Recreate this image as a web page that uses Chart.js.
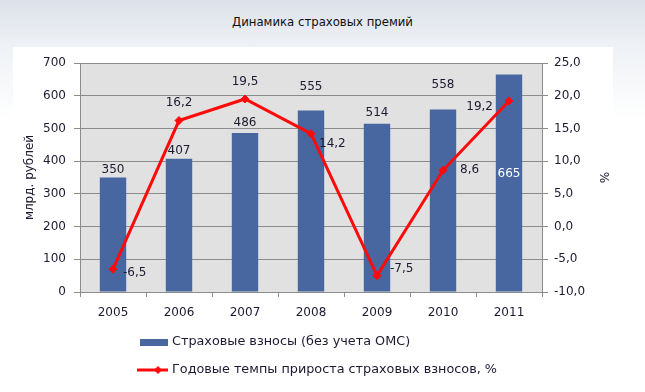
<!DOCTYPE html>
<html>
<head>
<meta charset="utf-8">
<script src="https://cdn.jsdelivr.net/npm/chart.js@4/dist/chart.umd.min.js"></script>
<style>
  html, body { margin: 0; padding: 0; }
  body {
    width: 645px; height: 392px; overflow: hidden; position: relative;
    background: linear-gradient(to bottom, #dce1ea 0px, #eef1f5 45px, #ffffff 120px);
  }
  #panel { position: absolute; left: 13px; top: 47px; width: 600px; height: 345px; background: #fff; }
  #title {
    position: absolute; left: 0; top: 14px; width: 645px; text-align: center;
    font: 13px "DejaVu Sans Condensed", "DejaVu Sans", sans-serif; color: #111;
  }
  #wrap { position: absolute; left: 0; top: 0; width: 645px; height: 392px; }
</style>
</head>
<body>
<div id="panel"></div>
<div id="title">Динамика страховых премий</div>
<div id="wrap"><canvas id="chart" width="645" height="392"></canvas></div>
<script>
// Chart data
const years = ['2005', '2006', '2007', '2008', '2009', '2010', '2011'];
const premiums = [350, 407, 486, 555, 514, 558, 665];
const growth = [-6.5, 16.2, 19.5, 14.2, -7.5, 8.6, 19.2];
const barLabel = 'Страховые взносы (без учета ОМС)';
const lineLabel = 'Годовые темпы прироста страховых взносов, %';

const BLUE = '#4866a0';
const RED = '#ff0a0a';
const TEXT = '#1c1a30';
const GRID = '#8c8c8c';
const FONT = '"DejaVu Sans", sans-serif';

// label placement (style only): gap above each bar top, last one sits inside the bar
const barLabelGap = [8, 8, 10, 24, 11, 25, null];
// growth label relative to its point: [dx, dy, align]
const growthLabelPos = [
    [10, 4, 'left'], [0, -18, 'center'], [0, -17, 'center'], [8, 10, 'left'],
    [13, -7, 'left'], [17, 0, 'left'], [-16, 6, 'right']
];

const fmt = v => v.toFixed(1).replace('.', ',');

const plotBg = {
    id: 'plotBg',
    beforeDraw(chart) {
        const { ctx, chartArea: a } = chart;
        ctx.save();
        ctx.fillStyle = '#e1e1e1';
        ctx.fillRect(a.left, a.top, a.right - a.left, a.bottom - a.top);
        ctx.restore();
    }
};

const valueLabels = {
    id: 'valueLabels',
    afterDatasetsDraw(chart) {
        const ctx = chart.ctx;
        ctx.save();
        ctx.font = '12px ' + FONT;
        ctx.textBaseline = 'middle';

        // bar labels
        chart.getDatasetMeta(1).data.forEach((bar, i) => {
            ctx.textAlign = 'center';
            const gap = barLabelGap[i];
            if (gap === null) {
                ctx.fillStyle = '#ffffff';
                ctx.fillText(String(premiums[i]), bar.x, (bar.y + bar.base) / 2 - 9);
            } else {
                ctx.fillStyle = TEXT;
                ctx.fillText(String(premiums[i]), bar.x, bar.y - gap);
            }
        });

        // line labels
        ctx.fillStyle = TEXT;
        chart.getDatasetMeta(0).data.forEach((pt, i) => {
            const [dx, dy, align] = growthLabelPos[i];
            ctx.textAlign = align;
            ctx.fillText(fmt(growth[i]), pt.x + dx, pt.y + dy);
        });
        ctx.restore();
    }
};

const legendBox = {
    id: 'legendBox',
    afterDraw(chart) {
        const ctx = chart.ctx;
        ctx.save();
        ctx.fillStyle = BLUE;
        ctx.fillRect(140, 339, 28, 7);

        ctx.strokeStyle = RED;
        ctx.lineWidth = 3;
        ctx.beginPath();
        ctx.moveTo(137, 370);
        ctx.lineTo(168, 370);
        ctx.stroke();
        ctx.fillStyle = RED;
        ctx.beginPath();
        ctx.moveTo(158, 366); ctx.lineTo(162, 370); ctx.lineTo(158, 374); ctx.lineTo(154, 370);
        ctx.closePath();
        ctx.fill();

        ctx.font = '12.8px ' + FONT;
        ctx.fillStyle = TEXT;
        ctx.textAlign = 'left';
        ctx.textBaseline = 'middle';
        ctx.fillText(barLabel, 172, 342);
        ctx.fillText(lineLabel, 172, 370);
        ctx.restore();
    }
};

new Chart(document.getElementById('chart'), {
    data: {
        labels: years,
        datasets: [
            {
                type: 'line',
                label: lineLabel,
                data: growth,
                yAxisID: 'y1',
                borderColor: RED,
                backgroundColor: RED,
                borderWidth: 3,
                pointStyle: 'rectRot',
                pointRadius: 4,
                pointBorderWidth: 1,
                tension: 0
            },
            {
                type: 'bar',
                label: barLabel,
                data: premiums,
                yAxisID: 'y',
                backgroundColor: BLUE,
                categoryPercentage: 1,
                barPercentage: 0.4
            }
        ]
    },
    options: {
        responsive: false,
        animation: false,
        layout: { padding: { left: 0, right: 0, top: 63, bottom: 0 } },
        plugins: { legend: { display: false }, tooltip: { enabled: false } },
        scales: {
            x: {
                offset: true,
                grid: { display: true, drawOnChartArea: false, offset: true, color: GRID, tickLength: 5 },
                border: { color: GRID },
                ticks: { color: TEXT, font: { family: FONT, size: 12 }, padding: 9, maxRotation: 0 },
                afterFit: s => { s.height = 100; }
            },
            y: {
                position: 'left',
                min: 0, max: 700,
                ticks: { stepSize: 100, color: TEXT, font: { family: FONT, size: 12 }, padding: 8 },
                grid: { color: GRID, tickLength: 6 },
                border: { color: GRID },
                title: { display: true, text: 'млрд. рублей', color: TEXT, font: { family: FONT, size: 12 }, padding: { top: 23 } },
                afterFit: s => { s.width = 80; }
            },
            y1: {
                position: 'right',
                min: -10, max: 25,
                ticks: { stepSize: 5, color: TEXT, font: { family: FONT, size: 12 }, padding: 6, callback: v => fmt(v) },
                grid: { drawOnChartArea: false, color: GRID, tickLength: 6 },
                border: { color: GRID },
                title: { display: true, text: '%', color: TEXT, font: { family: FONT, size: 12 }, padding: { top: 35 } },
                afterFit: s => { s.width = 103; }
            }
        }
    },
    plugins: [plotBg, valueLabels, legendBox]
});
</script>
</body>
</html>
